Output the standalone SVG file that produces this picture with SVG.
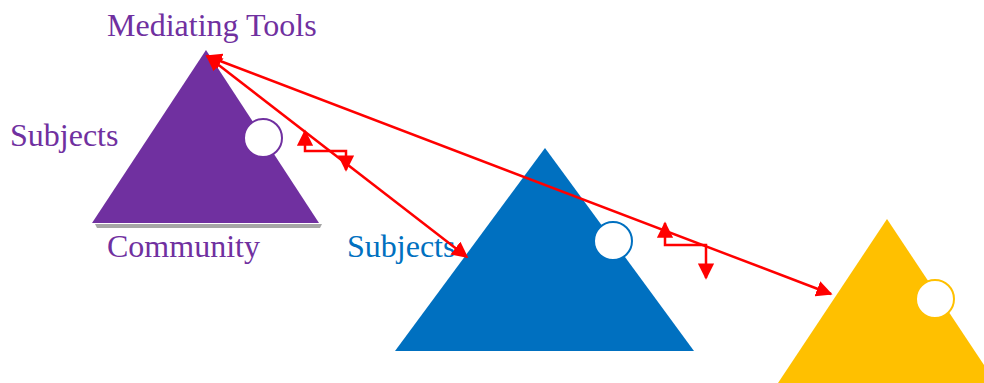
<svg xmlns="http://www.w3.org/2000/svg" width="984" height="383" viewBox="0 0 984 383">
<style>
text{font-family:"Liberation Serif","Times New Roman",serif;font-size:32px}
.c{fill:#fff;stroke-width:2}
.r{fill:none;stroke:#ff0000;stroke-width:2.5}
</style>
<defs>
<marker id="ah" viewBox="0 0 10 10" refX="9" refY="5" markerWidth="6.5" markerHeight="6.5" orient="auto-start-reverse" markerUnits="strokeWidth">
<path d="M0,0 L10,5 L0,10 z" fill="#ff0000"/>
</marker>
</defs>
<g id="purple">
<polygon points="95,224 322,224 320,228 97,228" fill="#a6a6a6"/>
<polygon points="206,50 319,223 92,223" fill="#7030a0"/>
<circle class="c" cx="263" cy="138" r="19" stroke="#7030a0"/>
<text x="107" y="36" fill="#7030a0">Mediating Tools</text>
<text x="10" y="146" fill="#7030a0">Subjects</text>
<text x="107" y="257" fill="#7030a0">Community</text>
</g>
<g id="blue">
<polygon points="545,148 694,351 395,351" fill="#0070c0"/>
<circle class="c" cx="613" cy="241" r="19" stroke="#0070c0"/>
<text x="347" y="257" fill="#0070c0">Subjects</text>
</g>
<g id="yellow">
<polygon points="887,219 996,383 778,383" fill="#ffc000"/>
<circle class="c" cx="935" cy="299" r="19" stroke="#ffc000"/>
</g>
<g id="connectors">
<line class="r" x1="207" y1="56" x2="831" y2="294" marker-start="url(#ah)" marker-end="url(#ah)"/>
<line class="r" x1="207" y1="56" x2="467" y2="257" marker-start="url(#ah)" marker-end="url(#ah)"/>
<polyline class="r" points="305,131 305,151 346,151 346,170" marker-start="url(#ah)" marker-end="url(#ah)"/>
<polyline class="r" points="665,223 665,245 706,245 706,278" marker-start="url(#ah)" marker-end="url(#ah)"/>
</g>
</svg>
